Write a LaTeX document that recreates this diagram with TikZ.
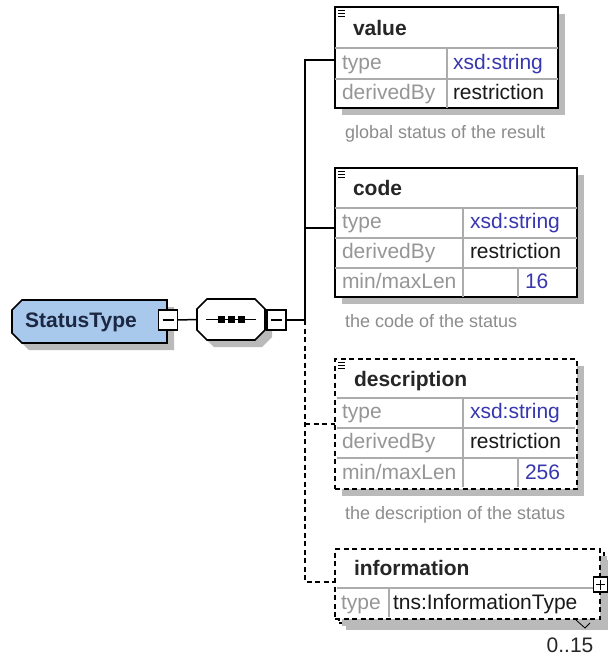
\documentclass[tikz,border=0pt]{standalone}
\usepackage{fontspec}
\setmainfont{Liberation Sans}
\usepackage{xcolor}
\usepackage{tikz}
\usetikzlibrary{shadows}

\definecolor{typeblue}{RGB}{55,55,175}
\definecolor{cplxfill}{RGB}{168,200,236}
\definecolor{cplxtext}{RGB}{28,40,66}
\definecolor{lblgray}{RGB}{150,150,150}
\definecolor{notegray}{RGB}{140,140,140}

\newcommand{\cellfont}{\fontsize{21}{24}\selectfont}
\newcommand{\notefont}{\fontsize{18}{21}\selectfont}
% little "documentation" mark in the corner of an element box
\newcommand{\docmark}[1]{%
  \foreach \dy in {3,6,9}
    \draw[line width=0.9pt] ([shift={(3,\dy)}]#1.north west) -- ++(7,0);}

\begin{document}
\begin{tikzpicture}[x=1pt,y=-1pt,
    every node/.style={inner sep=0pt, outer sep=0pt},
    shade/.style={drop shadow={shadow xshift=7pt, shadow yshift=-7pt, fill=black!27, opacity=1}},
    elbox/.style={draw=black, line width=1.6pt, fill=white, anchor=north west, shade},
    optbox/.style={elbox, dash pattern=on 5pt off 3.5pt},
    outline/.style={draw=black, line width=1.6pt, line join=miter, shade},
    toggle/.style={draw=black, line width=1.3pt, fill=white, minimum width=19, minimum height=20},
    grid/.style={draw=gray!65, line width=1.2pt},
    wire/.style={line width=1.5pt},
    optwire/.style={wire, dash pattern=on 5pt off 3.5pt},
    head/.style={anchor=west, font=\cellfont\bfseries, text=black!85, text height=17pt, text depth=2pt},
    lbl/.style={anchor=west, font=\cellfont, text=lblgray, text height=15pt, text depth=4pt},
    val/.style={anchor=west, font=\cellfont, text=black!90, text height=15pt, text depth=4pt},
    tval/.style={val, text=typeblue},
    note/.style={anchor=base west, font=\notefont, text=notegray}]

    % Canvas
    \useasboundingbox (0,0) rectangle (608,659);
    \fill[white] (0,0) rectangle (608,659);

    % Complex type
    \node[minimum width=155, minimum height=43, anchor=north west] (status) at (12,300) {};
    \draw[outline, fill=cplxfill] ([xshift=10pt]status.north west) -- (status.north east)
        -- (status.south east) -- ([xshift=10pt]status.south west)
        -- ([yshift=10pt]status.south west) -- ([yshift=-10pt]status.north west) -- cycle;
    \node[anchor=base, font=\cellfont\bfseries, text=cplxtext] (statuslbl) at (81,327) {StatusType};
    \node[toggle] (stmin) at (168,320) {};
    \draw[line width=1.2pt] ([xshift=4pt]stmin.west) -- ([xshift=-4pt]stmin.east);

    % Sequence
    \node[minimum width=68, minimum height=41, anchor=north west] (seq) at (197,299) {};
    \draw[outline, fill=white] ([xshift=10pt]seq.north west) -- ([xshift=-10pt]seq.north east)
        -- ([yshift=-10pt]seq.north east) -- ([yshift=10pt]seq.south east)
        -- ([xshift=-10pt]seq.south east) -- ([xshift=10pt]seq.south west)
        -- ([yshift=10pt]seq.south west) -- ([yshift=-10pt]seq.north west) -- cycle;
    \draw[line width=1.3pt] ([xshift=9pt]seq.west) -- ([xshift=-9pt]seq.east);
    \foreach \dx in {-10,0,10}
        \fill ([xshift=\dx pt]seq.center) +(-3.5,-3.5) rectangle +(3.5,3.5);
    \node[toggle] (seqmin) at (276.5,320) {};
    \draw[line width=1.2pt] ([xshift=4pt]seqmin.west) -- ([xshift=-4pt]seqmin.east);

    % value
    \node[elbox, minimum width=223, minimum height=101] (value) at (335,7) {};
    \draw[grid] (335,48) -- (558,48) (335,79) -- (558,79) (447,48) -- (447,108);
    \docmark{value}
    \node[head] (valueh) at (353,27.5) {value};
    \node[lbl] (valuet) at (342,63.5) {type};
    \node[tval] (valuetv) at (453,63.5) {xsd:string};
    \node[lbl] (valued) at (342,93.5) {derivedBy};
    \node[val] (valuedv) at (453,93.5) {restriction};
    \node[note] (valuen) at (345,138) {global status of the result};

    % code
    \node[elbox, minimum width=242, minimum height=129] (code) at (335,168) {};
    \draw[grid] (335,208) -- (577,208) (335,238) -- (577,238) (335,268) -- (577,268)
                (463,208) -- (463,297) (518,268) -- (518,297);
    \docmark{code}
    \node[head] (codeh) at (353,188) {code};
    \node[lbl] (codet) at (342,223) {type};
    \node[tval] (codetv) at (470,223) {xsd:string};
    \node[lbl] (coded) at (342,253) {derivedBy};
    \node[val] (codedv) at (470,253) {restriction};
    \node[lbl] (codel) at (342,282.5) {min/maxLen};
    \node[tval] (codelv) at (525,282.5) {16};
    \node[note] (coden) at (345,327) {the code of the status};

    % description
    \node[optbox, minimum width=242, minimum height=130] (desc) at (335,359) {};
    \draw[grid] (337,398) -- (575,398) (337,428) -- (575,428) (337,458) -- (575,458)
                (463,398) -- (463,487) (518,458) -- (518,487);
    \docmark{desc}
    \node[head] (desch) at (354,379) {description};
    \node[lbl] (desct) at (342,413) {type};
    \node[tval] (desctv) at (470,413) {xsd:string};
    \node[lbl] (descd) at (342,443) {derivedBy};
    \node[val] (descdv) at (470,443) {restriction};
    \node[lbl] (descl) at (342,473.5) {min/maxLen};
    \node[tval] (desclv) at (525,473.5) {256};
    \node[note] (descn) at (345,519) {the description of the status};

    % information (repeated)
    \node[optbox, minimum width=265, minimum height=70] (infoback) at (339,553) {};
    \node[optbox, shade/.style={}, minimum width=265, minimum height=70] (info) at (335,549) {};
    \draw[grid] (337,588) -- (598,588) (389,588) -- (389,617);
    \node[head] (infoh) at (354,568) {information};
    \node[lbl] (infot) at (341,603.5) {type};
    \node[val] (infotv) at (393,603.5) {tns:InformationType};
    \node[toggle, minimum width=14, minimum height=15, line width=1.2pt] (infoplus) at (600.5,584.5) {};
    \draw[line width=1.1pt] ([xshift=2.5pt]infoplus.west) -- ([xshift=-2.5pt]infoplus.east)
        ([yshift=-2.5pt]infoplus.north) -- ([yshift=2.5pt]infoplus.south);
    \node[anchor=base, font=\cellfont, text=black!85] (infoocc) at (570,652) {0..15};
    \draw[line width=0.8pt] (576,620) -- (585,628) -- (590,623);

    % Connectors
    \coordinate (bus) at (305,320);
    \coordinate (jval) at (305,60);
    \coordinate (jcode) at (305,228);
    \coordinate (jdesc) at (305,424);
    \coordinate (jinfo) at (305,582);
    \draw[wire] (stmin.east) -- (seq.west);
    \draw[wire] (seq.east) -- (seqmin.west);
    \draw[wire] (seqmin.east) -- (bus);
    \draw[wire] (jval -| value.west) -- (jval) -- (bus);
    \draw[wire] (jcode) -- (jcode -| code.west);
    \draw[optwire] (bus) -- (jinfo) -- (jinfo -| info.west);
    \draw[optwire] (jdesc) -- (jdesc -| desc.west);
\end{tikzpicture}
\end{document}
